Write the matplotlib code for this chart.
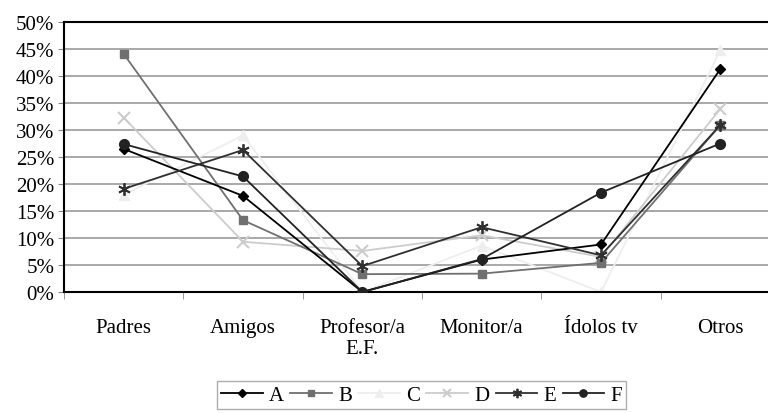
import matplotlib.pyplot as plt
import numpy as np

plt.rcParams['font.family'] = ['Liberation Serif', 'DejaVu Serif']

categories = ["Padres", "Amigos", "Profesor/a\nE.F.", "Monitor/a", "Ídolos tv", "Otros"]
y_labels = ["0%", "5%", "10%", "15%", "20%", "25%", "30%", "35%", "40%", "45%", "50%"]

serie_a = [26.5, 17.8, 0.0, 6.0, 8.8, 41.3]
serie_b = [44.1, 13.3, 3.3, 3.4, 5.4, 30.9]
serie_c = [18.0, 29.0, 0.0, 8.6, 0.0, 44.8]
serie_d = [32.3, 9.3, 7.6, 10.5, 6.5, 33.9]
serie_e = [19.1, 26.3, 4.8, 12.0, 6.8, 30.9]
serie_f = [27.4, 21.4, 0.0, 6.1, 18.4, 27.5]

fig = plt.figure(figsize=(7.68, 4.14), dpi=100)
ax = fig.add_axes([64 / 768, 121 / 414, 716 / 768, 270 / 414])

x = np.arange(len(categories))

# series styles (grey-scale like the original)
ax.plot(x, serie_a, color="black", marker="D", ms=5, lw=1.3, label="A", zorder=5)
ax.plot(x, serie_b, color="#707070", marker="s", ms=6, lw=1.3, label="B", zorder=4)
ax.plot(x, serie_c, color="#eeeeee", marker="^", ms=7, lw=1.3, label="C", zorder=2)
ax.plot(x, serie_d, color="#cccccc", marker="x", ms=8, mew=1.5, lw=1.3, label="D", zorder=3)
ax.plot(x, serie_e, color="#303030", marker=(6, 2, 0), ms=9, mew=1.3, lw=1.3, label="E", zorder=5)
ax.plot(x, serie_f, color="#222222", marker="o", ms=7, lw=1.3, label="F", zorder=6)

ax.set_xlim(-0.5, 5.5)
ax.set_ylim(0, 50)
ax.set_yticks(np.arange(0, 51, 5))
ax.set_yticklabels(y_labels, fontsize=15)
ax.set_xticks(x)
ax.set_xticklabels(categories, fontsize=15, linespacing=1.1)
ax.tick_params(axis="x", length=0, pad=19)
ax.set_xticks(np.arange(-0.5, 6, 1), minor=True)
ax.tick_params(axis="x", which="minor", length=5, direction="out", color="#888888")
ax.tick_params(axis="y", length=4, direction="out", color="#888888", pad=3)

ax.grid(axis="y", color="#999999", lw=1.2)
ax.set_axisbelow(True)
for s in ax.spines.values():
    s.set_color("black")
    s.set_linewidth(1.5)

leg = fig.legend(loc="upper center", bbox_to_anchor=(0.549, 0.077), ncol=6, fontsize=15,
                 frameon=True, fancybox=False, edgecolor="#999999", handlelength=2.0,
                 handletextpad=0.3, columnspacing=0.3, borderpad=0.2, markerscale=0.75,
                 borderaxespad=0)

fig.savefig("out.png", dpi=100)
